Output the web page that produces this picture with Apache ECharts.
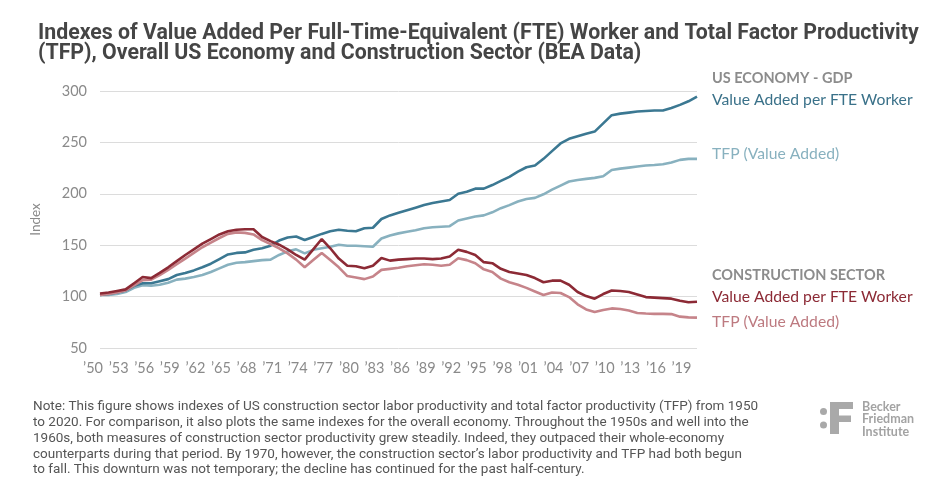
<!DOCTYPE html>
<html>
<head>
<meta charset="utf-8">
<script src="https://cdn.jsdelivr.net/npm/echarts@6/dist/echarts.min.js"></script>
<style>
  html, body { margin: 0; padding: 0; background: #fff; }
  #chart { width: 935px; height: 491px; }
</style>
</head>
<body>
<div id="chart"></div>
<script>
// Years on the x axis (1950 - 2020)
var years = [
  1950, 1951, 1952, 1953, 1954, 1955, 1956, 1957, 1958, 1959,
  1960, 1961, 1962, 1963, 1964, 1965, 1966, 1967, 1968, 1969,
  1970, 1971, 1972, 1973, 1974, 1975, 1976, 1977, 1978, 1979,
  1980, 1981, 1982, 1983, 1984, 1985, 1986, 1987, 1988, 1989,
  1990, 1991, 1992, 1993, 1994, 1995, 1996, 1997, 1998, 1999,
  2000, 2001, 2002, 2003, 2004, 2005, 2006, 2007, 2008, 2009,
  2010, 2011, 2012, 2013, 2014, 2015, 2016, 2017, 2018, 2019,
  2020
];

// US economy - value added per FTE worker
var usValuePerFte = [
  101.5, 102.5, 104, 106, 110.5, 113, 113, 115, 117, 121,
  123, 125.5, 128.5, 132, 136.5, 141, 142.5, 143, 145.5, 147,
  149.5, 154.5, 157.5, 158.5, 155, 158, 161, 163.5, 165, 164,
  163.5, 166.5, 167, 175.5, 179, 181.5, 184, 186.5, 189, 191,
  192.5, 194, 200, 202, 205, 205, 208.5, 212.5, 216.5, 221.5,
  225.8, 227.5, 234, 241.5, 249, 253.5, 256, 258.5, 260.5, 268.5,
  276.5, 278, 279, 280, 280.5, 281, 281, 283.5, 286.5, 290,
  294.5
];

// US economy - TFP (value added)
var usTfp = [
  101.5, 101.5, 102.5, 104.5, 108.5, 111, 110.5, 111.5, 113.5, 116.5,
  117.5, 119, 121, 124, 127.5, 131, 133, 133.5, 134.5, 135.5,
  136, 140.5, 144, 146, 142, 145.5, 147, 148.5, 150.5, 149.5,
  149.5, 149, 148.5, 156.5, 159.5, 161.5, 163, 164.5, 166.5, 167.5,
  168, 168.5, 174, 176, 178, 179, 182, 186, 189, 192.5,
  195, 196, 199.5, 204, 208, 212, 213.5, 214.5, 215.5, 217,
  223.2, 224.5, 225.5, 226.5, 227.5, 228, 228.7, 230.5, 233, 234,
  234
];

// Construction sector - value added per FTE worker
var conValuePerFte = [
  103, 104, 105.5, 107, 113, 119, 118, 123, 128.5, 134.5,
  140.5, 146, 151.5, 156, 160.5, 163.5, 165, 165.5, 165.5, 158,
  154, 150.5, 146, 140.5, 136, 146, 156, 147, 137, 130,
  129.5, 127.5, 130, 137.5, 135, 136, 136.5, 137, 137, 136.5,
  137, 139, 145.5, 143.5, 140.5, 133.5, 132.5, 127, 124, 122.5,
  121, 118, 114, 115.5, 115.5, 111.5, 104.5, 100.5, 98, 102.5,
  106, 105.5, 104.5, 102, 99.5, 99, 98.5, 98, 96, 94.5,
  95
];

// Construction sector - TFP (value added)
var conTfp = [
  101.5, 102.5, 104, 106, 111, 116, 116.5, 121, 126, 131.5,
  137, 142.5, 148, 152.5, 157, 161, 162.5, 162, 160.5, 155,
  151, 147, 142, 136, 128.5, 135.5, 142.5, 135.5, 128.5, 120,
  118.5, 117, 119.5, 126, 127, 128, 129.5, 130.5, 131.5, 131,
  130, 131, 137.3, 135.5, 132.5, 126.5, 124, 117.5, 114, 111.5,
  108.5, 105, 101.5, 104, 103.5, 99.5, 92.5, 87.5, 85, 87,
  88.5, 88, 86.5, 84, 83.5, 83.2, 83.2, 83, 80.5, 79.8,
  79.5
];

var noteLines = [
  'Note: This figure shows indexes of US construction sector labor productivity and total factor productivity (TFP) from 1950',
  'to 2020. For comparison, it also plots the same indexes for the overall economy. Throughout the 1950s and well into the',
  '1960s, both measures of construction sector productivity grew steadily. Indeed, they outpaced their whole-economy',
  'counterparts during that period. By 1970, however, the construction sector\u2019s labor productivity and TFP had both begun',
  'to fall. This downturn was not temporary; the decline has continued for the past half-century.'
];

var tealDark = '#3b7892';
var tealLight = '#88b1bf';
var redDark = '#8c2a35';
var redLight = '#c6848a';
var labelGray = '#8a8a8a';

function pairs(vals) {
  return years.map(function (y, i) { return [y, vals[i]]; });
}

function lineSeries(name, vals, color) {
  return {
    name: name,
    type: 'line',
    data: pairs(vals),
    showSymbol: false,
    smooth: false,
    lineStyle: { color: color, width: 2.6 },
    itemStyle: { color: color },
    emphasis: { disabled: true }
  };
}

function label(left, top, text, color, size, weight) {
  return {
    type: 'text', left: left, top: top,
    style: { text: text, fill: color, fontFamily: 'Lato', fontSize: size, fontWeight: weight || 'normal' }
  };
}

var chart = echarts.init(document.getElementById('chart'));

var option = {
  backgroundColor: '#ffffff',
  animation: false,
  textStyle: { fontFamily: 'Lato' },
  title: {
    text: 'Indexes of Value Added Per Full-Time-Equivalent (FTE) Worker and Total Factor Productivity\n(TFP), Overall US Economy and Construction Sector (BEA Data)',
    left: 33,
    top: 18,
    textStyle: {
      fontFamily: 'Roboto',
      fontSize: 21.3,
      fontWeight: 'bold',
      lineHeight: 20.5,
      color: '#454545'
    }
  },
  grid: { left: 100, right: 238, top: 91, bottom: 143 },
  xAxis: {
    type: 'value',
    min: 1950,
    max: 2020,
    interval: 3,
    axisLine: { show: false },
    axisTick: { show: false },
    splitLine: { show: false },
    axisLabel: {
      color: labelGray,
      fontSize: 14.5,
      margin: 13,
      padding: [0, 14, 0, 0],
      formatter: function (v) {
        if ((v - 1950) % 3 !== 0) return '';
        return '\u2019' + String(v).slice(2);
      }
    }
  },
  yAxis: {
    type: 'value',
    min: 50,
    max: 300,
    interval: 50,
    name: 'Index',
    nameLocation: 'middle',
    nameGap: 57,
    nameTextStyle: { color: labelGray, fontSize: 13.5 },
    axisLine: { show: false },
    axisTick: { show: false },
    axisLabel: { color: labelGray, fontSize: 14.5, margin: 13 },
    splitLine: { lineStyle: { color: '#dcdcdc', width: 1 } }
  },
  series: [
    lineSeries('US TFP (Value Added)', usTfp, tealLight),
    lineSeries('US Value Added per FTE Worker', usValuePerFte, tealDark),
    lineSeries('Construction TFP (Value Added)', conTfp, redLight),
    lineSeries('Construction Value Added per FTE Worker', conValuePerFte, redDark)
  ],
  graphic: [
    // right-hand labels
    label(712, 71, 'US ECONOMY - GDP', '#8c8c8c', 14.5, 'bold'),
    label(712, 92, 'Value Added per FTE Worker', '#3a7189', 15.7),
    label(712, 146, 'TFP (Value Added)', tealLight, 15.7),
    label(712, 268, 'CONSTRUCTION SECTOR', '#8c8c8c', 14.5, 'bold'),
    label(712, 289, 'Value Added per FTE Worker', redDark, 15.7),
    label(712, 314, 'TFP (Value Added)', '#bd7a80', 15.7),
    // note
    {
      type: 'text', left: 33, top: 399,
      style: {
        text: noteLines.join('\n'),
        fill: '#555555',
        fontFamily: 'Roboto',
        fontSize: 13.5,
        lineHeight: 15.8
      }
    },
    // Becker Friedman Institute mark
    { type: 'circle', shape: { cx: 823.5, cy: 411.5, r: 3.5 }, style: { fill: '#a9a9a9' } },
    { type: 'circle', shape: { cx: 823.5, cy: 425, r: 3.5 }, style: { fill: '#a9a9a9' } },
    { type: 'rect', shape: { x: 830, y: 402, width: 9, height: 32 }, style: { fill: '#a9a9a9' } },
    { type: 'rect', shape: { x: 830, y: 402, width: 23, height: 7 }, style: { fill: '#a9a9a9' } },
    { type: 'rect', shape: { x: 838, y: 415.5, width: 13, height: 6.5 }, style: { fill: '#a9a9a9' } },
    {
      type: 'text', left: 862, top: 400,
      style: {
        text: 'Becker\nFriedman\nInstitute',
        fill: '#a3a3a3',
        fontFamily: 'Lato',
        fontSize: 12.5,
        fontWeight: 'bold',
        lineHeight: 12.5
      }
    }
  ]
};

chart.setOption(option);
</script>
</body>
</html>
